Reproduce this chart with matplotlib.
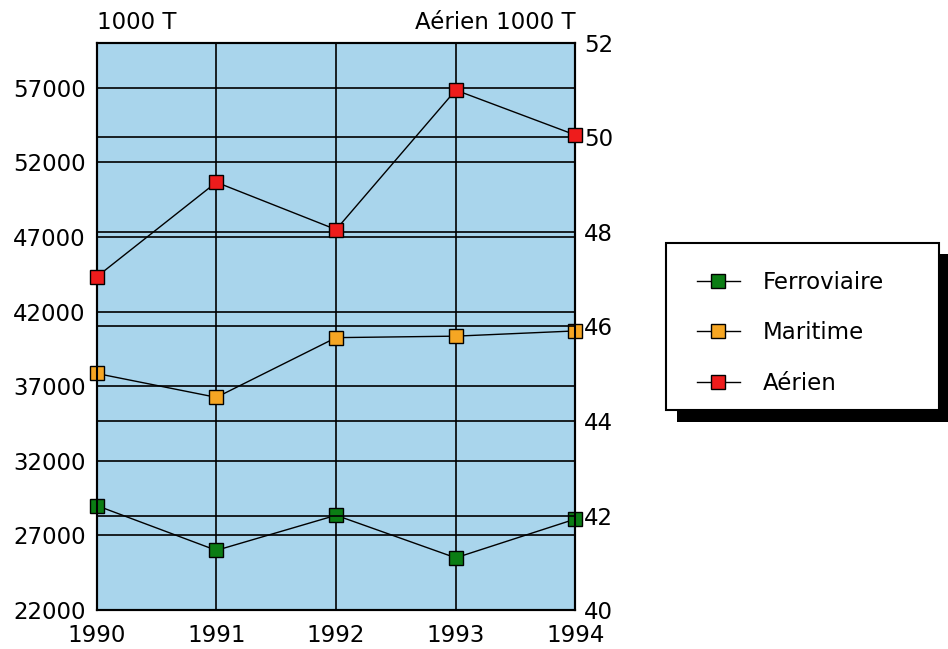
import matplotlib
matplotlib.use("Agg")
import matplotlib.pyplot as plt
from matplotlib.patches import Rectangle
from matplotlib.lines import Line2D

plt.rcParams["font.family"] = ["DejaVu Sans"]

years = [1990, 1991, 1992, 1993, 1994]
ferroviaire = [29000, 26000, 28350, 25500, 28100]
maritime = [37850, 36250, 40250, 40350, 40700]
aerien = [47.05, 49.05, 48.05, 51.0, 50.05]

left_ticks = [22000, 27000, 32000, 37000, 42000, 47000, 52000, 57000]
right_ticks = [40, 42, 44, 46, 48, 50, 52]

BG = "#a9d5ec"
GREEN = "#0b7d14"
ORANGE = "#f6a623"
RED = "#ee1c1c"
FS = 16.5

fig = plt.figure(figsize=(9.48, 6.49), dpi=100)
ax = fig.add_axes([0.102, 0.060, 0.505, 0.874])
ax.set_facecolor(BG)
ax2 = ax.twinx()

ax.set_xlim(1990, 1994)
ax.set_ylim(22000, 60000)
ax2.set_ylim(40, 52)

ax.set_xticks(years)
ax.set_yticks(left_ticks)
ax2.set_yticks(right_ticks)

ax.grid(True, color="black", linewidth=1.2)
ax2.grid(True, axis="y", color="black", linewidth=1.2)
ax.set_axisbelow(True)

for a in (ax, ax2):
    a.tick_params(length=0, labelsize=FS)
    for sp in a.spines.values():
        sp.set_linewidth(1.5)
ax.tick_params(axis="y", pad=8)
ax.tick_params(axis="x", pad=10)
ax2.tick_params(axis="y", pad=6)

mk = dict(marker="s", markersize=10, markeredgecolor="black",
          markeredgewidth=1.0, color="black", linewidth=1.0, clip_on=False)
ax.plot(years, ferroviaire, markerfacecolor=GREEN, zorder=5, **mk)
ax.plot(years, maritime, markerfacecolor=ORANGE, zorder=5, **mk)
ax2.plot(years, aerien, markerfacecolor=RED, zorder=5, **mk)

fig.text(0.102, 0.966, "1000 T", fontsize=FS, ha="left", va="center")
fig.text(0.607, 0.966, "Aérien 1000 T", fontsize=FS, ha="right", va="center")

# legend box with solid black drop shadow
fig.patches.append(Rectangle((0.714, 0.350), 0.286, 0.258, transform=fig.transFigure,
                             facecolor="black", edgecolor="none", zorder=1))
fig.patches.append(Rectangle((0.703, 0.368), 0.288, 0.258, transform=fig.transFigure,
                             facecolor="white", edgecolor="black", linewidth=1.5, zorder=2))
handles = [
    Line2D([], [], marker="s", markersize=10, markerfacecolor=c, markeredgecolor="black",
           color="black", linewidth=1.0)
    for c in (GREEN, ORANGE, RED)
]
fig.legend(handles, ["Ferroviaire", "Maritime", "Aérien"], loc="center left",
           bbox_to_anchor=(0.713, 0.487), frameon=False, fontsize=FS,
           handlelength=1.9, labelspacing=1.2, handletextpad=1.0)

fig.savefig("out.png", dpi=100, facecolor="white")
